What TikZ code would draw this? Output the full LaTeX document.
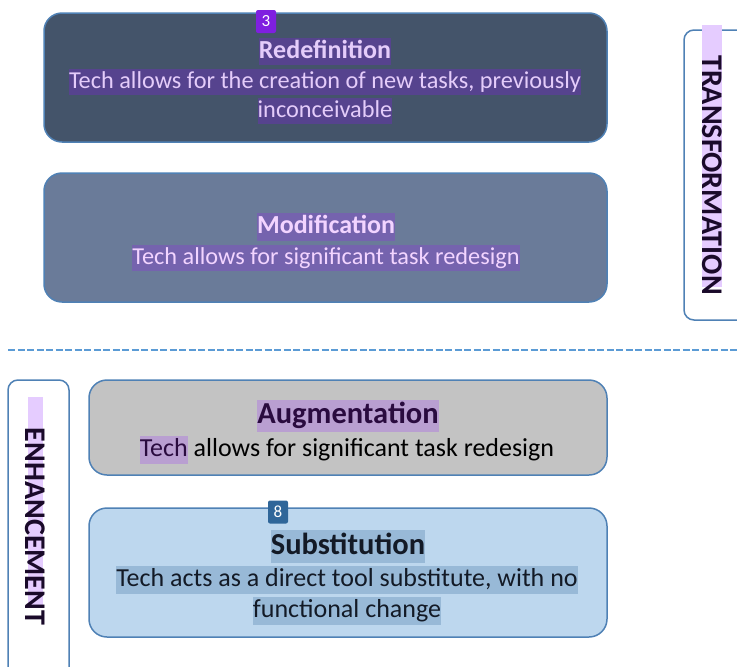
\documentclass[tikz,border=0pt]{standalone}
\usepackage{fontspec}
\setmainfont{Carlito}
\usetikzlibrary{positioning}
\definecolor{boxline}{HTML}{4F81B5}
\definecolor{dashblue}{HTML}{5B9BD5}
\definecolor{redeffill}{HTML}{44546A}
\definecolor{redefhl}{HTML}{56438E}
\definecolor{redeftext}{HTML}{E4CCFA}
\definecolor{modiffill}{HTML}{6A7B99}
\definecolor{modifhl}{HTML}{7563AE}
\definecolor{modiftext}{HTML}{F2D4FF}
\definecolor{augmfill}{HTML}{C3C3C3}
\definecolor{augmhl}{HTML}{B99FD1}
\definecolor{augmtext}{HTML}{2A0B3F}
\definecolor{substfill}{HTML}{BDD7EE}
\definecolor{substhl}{HTML}{98B9D7}
\definecolor{substtext}{HTML}{131A26}
\definecolor{sidehl}{HTML}{E5CCFF}
\definecolor{sidetext}{HTML}{1A0A2A}
\definecolor{badgepurple}{HTML}{7F1FE0}
\definecolor{badgeblue}{HTML}{2F6699}
\newcommand{\hl}[2]{{\setlength{\fboxsep}{0pt}\colorbox{#1}{\rule[-0.27em]{0pt}{1.06em}#2}}}
\begin{document}
\begin{tikzpicture}[x=1pt,y=-1pt,
  level/.style={draw=boxline,line width=1.5pt,rounded corners=18pt,inner sep=0pt},
  sidebox/.style={draw=boxline,line width=1.5pt,rounded corners=10pt,fill=white,inner sep=0pt},
  badge/.style={rounded corners=2pt,text=white,inner sep=0pt,minimum width=20pt,minimum height=23pt,font=\fontsize{17}{17}\selectfont},
  toptitle/.style={inner sep=0pt,font=\fontsize{26}{30}\selectfont\bfseries},
  topbody/.style={inner sep=0pt,align=center,font=\fontsize{24.3}{29.5}\selectfont},
  lowtitle/.style={inner sep=0pt,font=\fontsize{30.5}{34}\selectfont\bfseries},
  lowbody/.style={inner sep=0pt,align=center,font=\fontsize{26}{31}\selectfont},
  sidelabel/.style={inner sep=0pt,rotate=-90,font=\fontsize{30}{30}\selectfont\bfseries,text=sidetext}]
\useasboundingbox (0,0) rectangle (737,667);
\clip (0,0) rectangle (737,667);

\node[level,fill=redeffill,minimum width=563pt,minimum height=129pt] (redef) at (325.5,77.5) {};
\node[level,fill=modiffill,minimum width=563pt,minimum height=129pt] (modif) at (325.5,237.5) {};
\node[level,fill=augmfill,minimum width=518pt,minimum height=95pt] (augm) at (348,427.5) {};
\node[level,fill=substfill,minimum width=518pt,minimum height=129pt] (subst) at (348,572.5) {};

\node[toptitle,text=redeftext] (redeft) at (325,51.5) {\hl{redefhl}{Redefinition}};
\node[topbody,text=redeftext] (redefb) at (325,96.5) {\hl{redefhl}{Tech allows for the creation of new tasks, previously}\\\hl{redefhl}{inconceivable}};
\node[badge,fill=badgepurple] (badge3) at (266,21.5) {3};

\node[toptitle,text=modiftext] (modift) at (326,227) {\hl{modifhl}{Modification}};
\node[topbody,text=modiftext] (modifb) at (326,258) {\hl{modifhl}{Tech allows for significant task redesign}};

\node[lowtitle,text=augmtext] (augmt) at (348,416) {\hl{augmhl}{Augmentation}};
\node[lowbody] (augmb) at (347,450) {\hl{augmhl}{\textcolor{augmtext}{Tech}} allows for significant task redesign};

\node[lowtitle,text=substtext] (substt) at (348,546.5) {\hl{substhl}{Substitution}};
\node[lowbody,text=substtext] (substb) at (347,595.5) {\hl{substhl}{Tech acts as a direct tool substitute, with no}\\\hl{substhl}{functional change}};
\node[badge,fill=badgeblue] (badge8) at (278,512) {8};

\draw[dashblue,line width=2pt,dash pattern=on 7pt off 2.5pt] (8,350) -- (737,350);

\node[sidebox,minimum width=72pt,minimum height=290pt] (transf) at (720,175) {};
\fill[sidehl] (702,25) rectangle (722,287);
\node[sidelabel] (transft) at (712,175) {TRANSFORMATION};

\node[sidebox,minimum width=61pt,minimum height=300pt] (enhanc) at (38.5,530) {};
\fill[sidehl] (28,397) rectangle (43,607);
\node[sidelabel] (enhanct) at (35,526.5) {ENHANCEMENT};
\end{tikzpicture}
\end{document}
